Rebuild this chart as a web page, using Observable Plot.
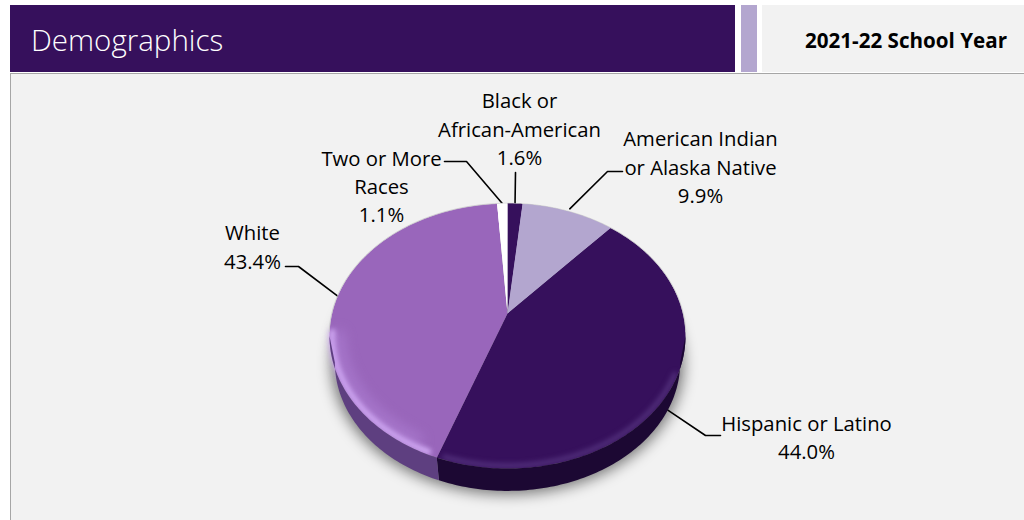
<!DOCTYPE html>
<html><head><meta charset="utf-8">
<script src="https://cdn.jsdelivr.net/npm/d3@7"></script>
<script src="https://cdn.jsdelivr.net/npm/@observablehq/plot@0.6"></script>
<style>
html,body{margin:0;padding:0;background:#fff;overflow:hidden;width:1024px;height:520px}
#head{position:relative;height:73px;font-family:"Open Sans",sans-serif}
#bar{position:absolute;left:10px;top:5px;width:725px;height:67px;background:#36105c;color:#fff;font-weight:300;font-size:29.5px;line-height:69px;text-indent:21px}
#accent{position:absolute;left:741px;top:5px;width:16px;height:67px;background:#b3a6cf}
#year{position:absolute;left:762px;top:5px;width:262px;height:67px;background:#f2f2f2;color:#000;font-weight:700;font-size:20.6px;line-height:70px;text-align:right;padding-right:17px;box-sizing:border-box;white-space:nowrap}
#panel{margin-left:10px;background:#f2f2f2;border-left:1px solid #a6a6a6;border-top:1px solid #a6a6a6;height:446px;overflow:hidden}
#panel svg{display:block;background:transparent}
</style></head><body>
<div id="head"><div id="bar">Demographics</div><div id="accent"></div><div id="year">2021-22 School Year</div></div>
<div id="panel"></div>
<script>
const categories = ["Black or African-American","American Indian or Alaska Native","Hispanic or Latino","White","Two or More Races"];
const labelLines = ["Black or\nAfrican-American","American Indian\nor Alaska Native","Hispanic or Latino","White","Two or More\nRaces"];
const shares = [1.6, 9.9, 44.0, 43.4, 1.1];

const faceColors = ["#36105c","#b3a6cf","#36105c","#9966bb","#ffffff"];
const sideColors = ["#1e0a36","#6f6690","#1c0833","#5e3f80","#cccccc"];
// Perspective disc
const view = {cx:507, cy:313, a:175.4, b:128.7, k:0.17, drop:27, shrink:0.97};
const project = (deg, r=1, low=false) => {
  const t = deg*Math.PI/180, u = r*Math.sin(t), v = r*Math.cos(t), d = 1+view.k*v, s = low?view.shrink:1;
  return {x:view.cx+s*view.a*u/d, y:view.cy+(low?view.drop:0)-s*view.b*v/d};
};
const arcDegs = (a0,a1) => d3.range(a0,a1,1).concat([a1]);

let acc = 0;
const slices = shares.map((v,i)=>{const s={i,start:acc*3.6,end:(acc+v)*3.6,mid:(acc+v/2)*3.6};acc+=v;return s;});
const wedge = s => [{x:view.cx,y:view.cy},...arcDegs(s.start,s.end).map(d=>project(d))];
const visibleFrom = 99.8, visibleTo = 260.2;
const sideBand = s => {
  const a0=Math.max(s.start,visibleFrom), a1=Math.min(s.end,visibleTo);
  if(a0>=a1) return null;
  const ds=arcDegs(a0,a1);
  return [...ds.map(d=>project(d)),...ds.slice().reverse().map(d=>project(d,1,true))];
};

const marks = [];
// Leader lines: rim anchor at each slice's middle, then an elbow, then the label
const leaders = [
 {i:0, elbow:[515,172], end:null, label:[519,127]},
 {i:1, elbow:[607,171], end:[622,171], r:1.03, label:[700,165]},
 {i:2, elbow:[705,435], end:[720,435], low:true, label:[806,437.5]},
 {i:3, elbow:[298,266], end:[285,266], r:1.0, label:[252,245]},
 {i:4, elbow:[466,161], end:[444,161], r:1.0, label:[381,184.5]}
];
leaders.forEach(l=>{
  const s=slices[l.i], p=project(s.mid,l.r||1,!!l.low);
  const pts=[p,{x:l.elbow[0],y:l.elbow[1]}]; if(l.end) pts.push({x:l.end[0],y:l.end[1]});
  marks.push(Plot.line(pts,{x:"x",y:"y",stroke:"#000",strokeWidth:1.6}));
});
// Soft shadow under the disc
marks.push(Plot.line(arcDegs(0,360).map(d=>project(d,1.02,true)),{x:"x",y:"y",fill:"#000",fillOpacity:0.5,imageFilter:"blur(7px)"}));
// Faces
slices.forEach(s=>marks.push(Plot.line(wedge(s),{x:"x",y:"y",fill:faceColors[s.i],stroke:"none"})));
// Rim glow
const glow = (a0,a1,r,color,w,op,blur)=>Plot.line(arcDegs(a0,a1).map(d=>project(d,r)),{x:"x",y:"y",stroke:color,strokeWidth:w,strokeOpacity:op,imageFilter:`blur(${blur}px)`});
const W=slices[3], H=slices[2];
marks.push(glow(W.start+3,W.start+62,0.985,"#d8b2fb",6,0.95,2.5));
marks.push(glow(W.start+8,W.start+60,0.95,"#b98be0",12,0.45,6));
marks.push(glow(H.start+75,H.end-2,0.985,"#5b3a85",5,0.75,2.5));
// Sides
slices.forEach(s=>{const b=sideBand(s); if(b) marks.push(Plot.line(b,{x:"x",y:"y",fill:sideColors[s.i],stroke:"none"}));});
// Thin back edge
marks.push(Plot.line(arcDegs(262,360).concat(arcDegs(0,98)).map(d=>project(d,1.002)),{x:"x",y:"y",stroke:"#c9c9c9",strokeWidth:0.8}));
slices.slice(0,2).concat(slices[4]).forEach(s=>marks.push(Plot.line(wedge(s),{x:"x",y:"y",fill:faceColors[s.i],stroke:"none"})));
// Labels
const labelRows = leaders.map(l=>({x:l.label[0],y:l.label[1]-(l.i==2?2:0),t:`${labelLines[l.i]}\n${shares[l.i].toFixed(1)}%`}));
marks.push(Plot.text(labelRows,{x:"x",y:"y",text:"t",fontSize:20.3,lineHeight:1.39,lineAnchor:"middle",fill:"#000",fontFamily:"Open Sans"}));

const chart = Plot.plot({
  width:1013,height:446,margin:0,
  style:{background:"transparent",overflow:"visible"},
  x:{domain:[11,1024],range:[0,1013],axis:null},
  y:{domain:[74,520],range:[0,446],axis:null},
  marks
});
document.getElementById("panel").appendChild(chart);
</script>
</body></html>
